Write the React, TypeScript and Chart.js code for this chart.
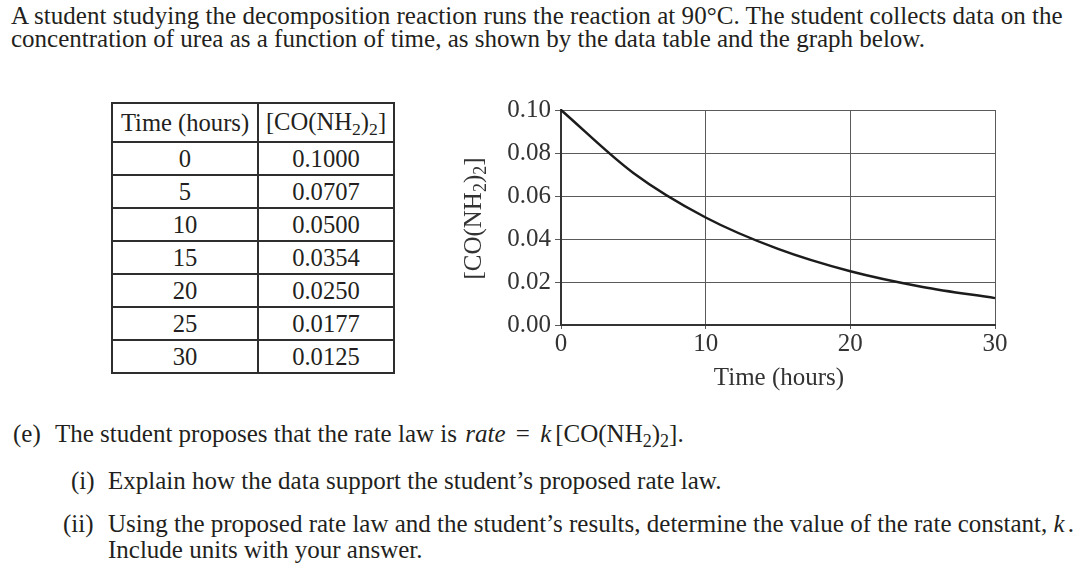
import React, { useEffect, useRef } from "react";
import { Chart, registerables } from "chart.js";

Chart.register(...registerables);

const timesHours = [0, 5, 10, 15, 20, 25, 30];
const ureaConc = [0.1, 0.0707, 0.05, 0.0354, 0.025, 0.0177, 0.0125];
const xTickValues = [0, 10, 20, 30];
const yTickValues = [0, 0.02, 0.04, 0.06, 0.08, 0.1];

const SERIF = '"Liberation Serif", "Times New Roman", Times, serif';
const INK = "#231f20";
const CHART_INK = "#333333";
const CHART_FONT = 25;

const Sub = ({ children }: { children: React.ReactNode }) => (
  <span style={{ fontSize: "0.72em", position: "relative", top: "0.3em" }}>{children}</span>
);

const Formula = () => (
  <span>
    [CO(NH<Sub>2</Sub>)<Sub>2</Sub>]
  </span>
);

const titlePlugin = {
  id: "axisTitles",
  afterDraw(chart: any) {
    const { ctx, chartArea } = chart;
    ctx.save();
    ctx.fillStyle = CHART_INK;
    ctx.textBaseline = "alphabetic";
    // x title
    ctx.font = `${CHART_FONT}px ${SERIF}`;
    ctx.textAlign = "center";
    ctx.fillText("Time (hours)", (chartArea.left + chartArea.right) / 2 + 1, chartArea.bottom + 60);
    // y title with subscripts
    const parts: { t: string; sub: boolean }[] = [
      { t: "[CO(NH", sub: false },
      { t: "2", sub: true },
      { t: ")", sub: false },
      { t: "2", sub: true },
      { t: "]", sub: false },
    ];
    const big = `${CHART_FONT}px ${SERIF}`;
    const small = `18px ${SERIF}`;
    let total = 0;
    for (const p of parts) {
      ctx.font = p.sub ? small : big;
      total += ctx.measureText(p.t).width;
    }
    ctx.translate(chartArea.left - 80, (chartArea.top + chartArea.bottom) / 2 + 1);
    ctx.rotate(-Math.PI / 2);
    ctx.textAlign = "left";
    let x = -total / 2;
    for (const p of parts) {
      ctx.font = p.sub ? small : big;
      ctx.fillText(p.t, x, p.sub ? 5 : 0);
      x += ctx.measureText(p.t).width;
    }
    ctx.restore();
  },
};

function ConcChart() {
  const ref = useRef<HTMLCanvasElement | null>(null);
  useEffect(() => {
    if (!ref.current) return;
    const chart = new Chart(ref.current, {
      type: "line",
      data: {
        datasets: [
          {
            data: timesHours.map((t, i) => ({ x: t, y: ureaConc[i] })),
            borderColor: "#1c1c1c",
            borderWidth: 2.5,
            pointRadius: 0,
            cubicInterpolationMode: "monotone",
            clip: false,
            fill: false,
          } as any,
        ],
      },
      options: {
        animation: false,
        responsive: false,
        maintainAspectRatio: false,
        layout: { padding: { left: 0, top: 20, right: 25, bottom: 0 } },
        plugins: { legend: { display: false }, tooltip: { enabled: false }, title: { display: false } },
        scales: {
          x: {
            type: "linear",
            min: 0,
            max: 30,
            afterBuildTicks: (s: any) => {
              s.ticks = xTickValues.map((v) => ({ value: v }));
            },
            ticks: {
              font: { family: SERIF, size: CHART_FONT },
              color: CHART_INK,
              padding: 0,
              maxRotation: 0,
              callback: (v: any) => String(v),
            },
            grid: { color: "#5a5a5a", lineWidth: 1, tickLength: 4, drawTicks: true },
            border: { color: "#333", width: 2 },
            afterFit: (s: any) => {
              s.height = 75;
            },
          },
          y: {
            min: 0,
            max: 0.1,
            afterBuildTicks: (s: any) => {
              s.ticks = yTickValues.map((v) => ({ value: v }));
            },
            ticks: {
              font: { family: SERIF, size: CHART_FONT },
              color: CHART_INK,
              padding: 4,
              callback: (v: any) => Number(v).toFixed(2),
            },
            grid: { color: "#5a5a5a", lineWidth: 1, tickLength: 6, drawTicks: true },
            border: { color: "#333", width: 2 },
            afterFit: (s: any) => {
              s.width = 121;
            },
          },
        },
      } as any,
      plugins: [titlePlugin],
    });
    return () => chart.destroy();
  }, []);
  return (
    <canvas
      ref={ref}
      width={580}
      height={310}
      style={{ position: "absolute", left: 440, top: 90, width: 580, height: 310 }}
    />
  );
}

const cellStyle: React.CSSProperties = {
  border: "2px solid #2e2e2e",
  padding: 0,
  textAlign: "center",
  fontSize: 24.6,
  lineHeight: "24px",
  fontFamily: SERIF,
  color: INK,
};

function DataTable() {
  return (
    <table
      style={{
        position: "absolute",
        left: 111,
        top: 102,
        width: 282,
        borderCollapse: "collapse",
        tableLayout: "fixed",
      }}
    >
      <colgroup>
        <col style={{ width: 146 }} />
        <col style={{ width: 136 }} />
      </colgroup>
      <tbody>
        <tr style={{ height: 39 }}>
          <td style={cellStyle}>Time (hours)</td>
          <td style={cellStyle}>
            <Formula />
          </td>
        </tr>
        {timesHours.map((t, i) => (
          <tr key={t} style={{ height: 33 }}>
            <td style={cellStyle}>{t}</td>
            <td style={cellStyle}>{ureaConc[i].toFixed(4)}</td>
          </tr>
        ))}
      </tbody>
    </table>
  );
}

const lineStyle = (left: number, top: number): React.CSSProperties => ({
  position: "absolute",
  left,
  top,
  whiteSpace: "nowrap",
  fontFamily: SERIF,
  fontSize: 25,
  lineHeight: "25px",
  color: INK,
});

export default function App() {
  return (
    <div
      style={{
        position: "absolute",
        left: 0,
        top: 0,
        width: 1080,
        height: 573,
        background: "#fff",
        overflow: "hidden",
      }}
    >
      <div style={{ ...lineStyle(11, 2.5), letterSpacing: "0.04px" }}>
        A student studying the decomposition reaction runs the reaction at 90°C. The student collects data on the
      </div>
      <div style={lineStyle(11, 26)}>
        concentration of urea as a function of time, as shown by the data table and the graph below.
      </div>
      <DataTable />
      <ConcChart />
      <div style={lineStyle(13, 420.5)}>(e)</div>
      <div style={lineStyle(55, 420.5)}>
        The student proposes that the rate law is <i style={{ marginLeft: 2 }}>rate</i>
        <span style={{ margin: "0 4px" }}> = </span>
        <i>k</i>
        <span style={{ marginLeft: 4 }}>
          <Formula />.
        </span>
      </div>
      <div style={lineStyle(71, 468)}>(i)</div>
      <div style={lineStyle(108, 468)}>Explain how the data support the student’s proposed rate law.</div>
      <div style={lineStyle(63, 510.5)}>(ii)</div>
      <div style={lineStyle(108, 510.5)}>
        Using the proposed rate law and the student’s results, determine the value of the rate constant, <i>k</i>
        <span style={{ marginLeft: 3 }}>.</span>
      </div>
      <div style={lineStyle(108, 537)}>Include units with your answer.</div>
    </div>
  );
}
